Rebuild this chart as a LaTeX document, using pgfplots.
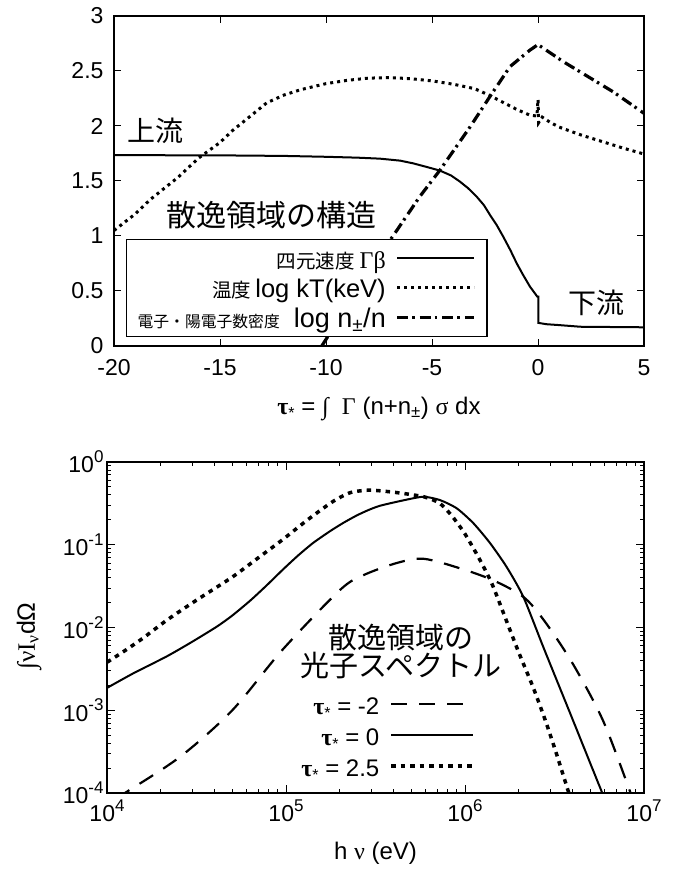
\documentclass[border=0pt]{standalone}
\usepackage{amsmath}
\usepackage{fontspec}
\setmainfont{Liberation Sans}
\newfontfamily\jp{Noto Sans CJK JP}
\newfontfamily\gr{Liberation Serif}
\usepackage{pgfplots}
\pgfplotsset{compat=1.18}
\newcommand{\fs}[1]{\fontsize{#1}{#1}\selectfont}
\newcommand{\tp}[1]{10\raisebox{0.45em}{\fs{17}#1}}
\newcommand{\taus}{{\gr\bfseries τ}\raisebox{-4pt}{\fs{16}*}}

\pgfplotstableread{
x y
-20 1.735
-15 1.733
-12 1.728
-10 1.72
-8.5 1.712
-7.45 1.703
-6.5 1.685
-5.88 1.66
-5.2 1.625
-4.62 1.594
-4.1 1.55
-3.68 1.494
-3.3 1.435
-2.89 1.357
-2.55 1.28
-2.26 1.19
-1.95 1.10
-1.64 0.994
-1.3 0.87
-1.0 0.75
-0.7 0.645
-0.38 0.54
-0.03 0.448
0.02 0.448
0.02 0.21
0.4 0.198
1 0.19
2 0.175
5 0.17
}\gb

\pgfplotstableread{
x y
-20 1.05
-19 1.2
-18.3 1.33
-17 1.53
-16 1.71
-15 1.85
-14.4 1.96
-13.5 2.10
-12.8 2.21
-12 2.28
-11.2 2.33
-10 2.385
-9 2.415
-8 2.435
-7 2.44
-6 2.43
-5 2.41
-4 2.38
-3 2.34
-2.3 2.28
-1.5 2.2
-1 2.15
-0.4 2.1
-0.05 2.09
0 2.24
0.03 2.03
0.2 2.08
0.6 2.03
1 1.99
2 1.92
3 1.86
4 1.80
5 1.745
}\kT

\pgfplotstableread{
x y
-10.2 0
-8.6 0.48
-6.98 0.96
-5.57 1.36
-4.62 1.6
-3.21 1.99
-2.26 2.27
-1.32 2.54
-0.38 2.69
0 2.74
1.19 2.585
3.55 2.31
5 2.115
}\npm

\pgfplotstableread{
x y
1.122e4 8.5e-5
1.259e4 1e-4
2.570e4 2.754e-4
5.012e4 1e-3
9.550e4 5.37e-3
1.995e5 2.818e-2
2.692e5 4.266e-2
4.169e5 6.03e-2
5.888e5 6.76e-2
9.376e5 5.19e-2
1.439e6 3.715e-2
2.118e6 2.344e-2
2.754e6 1.23e-2
3.981e6 3.715e-3
5.888e6 7.59e-4
8.318e6 1.07e-4
8.511e6 8.9e-5
}\sm

\pgfplotstableread{
x y
1e4 1.862e-3
1.413e4 2.818e-3
2.153e4 4.467e-3
2.951e4 6.607e-3
4.102e4 1.023e-2
5.012e4 1.396e-2
6.310e4 2.113e-2
7.762e4 3.199e-2
9.661e4 5.070e-2
1.175e5 7.499e-2
1.419e5 1.054e-1
1.762e5 1.459e-1
2.089e5 1.837e-1
2.483e5 2.259e-1
2.884e5 2.624e-1
3.350e5 2.958e-1
4.467e5 3.420e-1
5.848e5 3.802e-1
7.244e5 3.467e-1
8.995e5 2.754e-1
1.114e6 1.820e-1
1.380e6 1.047e-1
1.710e6 5.370e-2
2.118e6 2.344e-2
2.754e6 5.623e-3
3.890e6 8.913e-4
5.821e6 1.023e-4
6.026e6 8.9e-5
}\sz

\pgfplotstableread{
x y
1e4 3.80e-3
1.259e4 5.25e-3
1.585e4 7.41e-3
2.163e4 1.23e-2
3.162e4 2.14e-2
5.012e4 4.07e-2
7.079e4 7.08e-2
9.550e4 1.148e-1
1.318e5 1.995e-1
1.820e5 3.31e-1
2.291e5 4.27e-1
2.951e5 4.57e-1
4.150e5 4.27e-1
5.888e5 3.80e-1
7.244e5 3.16e-1
8.511e5 2.188e-1
1e6 1.349e-1
1.202e6 6.761e-2
1.413e6 3.388e-2
1.698e6 1.23e-2
1.995e6 5.01e-3
2.399e6 1.905e-3
2.818e6 7.41e-4
3.236e6 3.02e-4
3.802e6 1.0e-4
3.9e6 8.5e-5
}\sp

\begin{document}
\begin{tikzpicture}[x=1pt,y=1pt]
\path[use as bounding box] (0,0) rectangle (675,870);

\begin{axis}[
  at={(114pt,524pt)}, anchor=south west, scale only axis,
  width=530pt, height=330pt,
  xmin=-20, xmax=5, ymin=0, ymax=3,
  xtick={-20,-15,-10,-5,0,5}, xticklabels={-20,-15,-10,-5,0,5},
  ytick={0,0.5,1,1.5,2,2.5,3}, yticklabels={0,0.5,1,1.5,2,2.5,3},
  tick align=inside, major tick length=7pt,
  axis line style={line width=1.3pt},
  every tick/.style={black, line width=1pt},
  tick label style={font=\fs{23}},
  xticklabel style={yshift=-10pt},
  yticklabel style={xshift=-7pt},
  xlabel={\taus\ = {\gr ∫}\ \ {\gr Γ} (n+n\textsubscript{±}) {\gr σ} dx},
  xlabel style={at={(axis description cs:0.5,-0.19)}, anchor=center, font=\fs{24}},
  legend cell align=right, legend plot pos=right,
  legend style={at={(axis description cs:0.0226,0.0273)}, anchor=south west,
    draw=black, line width=1.3pt, fill=white, inner xsep=11pt, inner ysep=5pt,
    row sep=1.5pt, column sep=10pt,
    nodes={inner sep=0pt, text height=24pt, text depth=4pt}},
  legend image code/.code={\draw[#1] (0pt,0pt) -- (67pt,0pt); \path (0pt,0pt) -- (77pt,0pt);},
]
\addplot[black, line width=2pt] table {\gb};
\addlegendentry{{\jp\fs{19.5}四元速度}\hspace{5pt}{\gr\fs{24}Γβ}}
\addplot[black, line width=3pt, dash pattern=on 3pt off 4pt] table {\kT};
\addlegendentry{{\jp\fs{19.5}温度}\hspace{4pt}{\fs{25.5}log kT(keV)}}
\addplot[black, line width=3.2pt, dash pattern=on 11pt off 4pt on 2.5pt off 5pt] table {\npm};
\addlegendentry{{\jp\fs{15.8}電子・陽電子数密度}\hspace{14pt}{\fs{27}log n\textsubscript{±}/n}}
\node[font=\jp\fs{28}] at (axis cs:-18.02,1.955) {上流};
\node[font=\jp\fs{28}] at (axis cs:2.74,0.39) {下流};
\node[font=\jp\fs{30}] at (axis cs:-12.55,1.19) {散逸領域の構造};
\end{axis}

\begin{axis}[
  at={(107pt,77pt)}, anchor=south west, scale only axis,
  width=537pt, height=331pt,
  xmode=log, ymode=log, xmin=1e4, xmax=1e7, ymin=1e-4, ymax=1,
  xtick={1e4,1e5,1e6,1e7}, xticklabels={\tp{4},\tp{5},\tp{6},\tp{7}},
  ytick={1e-4,1e-3,1e-2,1e-1,1}, yticklabels={\tp{-4},\tp{-3},\tp{-2},\tp{-1},\tp{0}},
  minor xtick={2e4,3e4,4e4,5e4,6e4,7e4,8e4,9e4,2e5,3e5,4e5,5e5,6e5,7e5,8e5,9e5,2e6,3e6,4e6,5e6,6e6,7e6,8e6,9e6},
  minor ytick={2e-4,3e-4,4e-4,5e-4,6e-4,7e-4,8e-4,9e-4,2e-3,3e-3,4e-3,5e-3,6e-3,7e-3,8e-3,9e-3,2e-2,3e-2,4e-2,5e-2,6e-2,7e-2,8e-2,9e-2,2e-1,3e-1,4e-1,5e-1,6e-1,7e-1,8e-1,9e-1},
  tick align=inside, major tick length=8pt, minor tick length=4pt,
  axis line style={line width=1.3pt},
  every tick/.style={black, line width=1pt},
  tick label style={font=\fs{23}},
  xticklabel style={yshift=-3pt},
  xlabel={h {\gr ν} (eV)},
  xlabel style={at={(axis description cs:0.5,-0.181)}, anchor=center, font=\fs{24}},
  ylabel={{\gr ∫νI\textsubscript{ν}}dΩ},
  ylabel style={at={(axis description cs:-0.145,0.474)}, anchor=center, font=\fs{25}},
  legend cell align=right, legend plot pos=right,
  legend style={at={(axis description cs:0.6853,0.3112)}, anchor=north east,
    draw=none, fill=none, inner sep=0pt, row sep=3pt, column sep=10pt,
    font=\fs{24},
    nodes={inner sep=0pt, text height=24pt, text depth=4pt}},
  legend image code/.code={\draw[#1] (0pt,0pt) -- (82pt,0pt);},
]
\addplot[black, line width=2.2pt, dash pattern=on 16pt off 12pt, smooth, tension=0.5] table {\sm};
\addlegendentry{\taus\ = -2}
\addplot[black, line width=2pt, smooth, tension=0.4] table {\sz};
\addlegendentry{\taus\ = 0}
\addplot[black, line width=3.5pt, dash pattern=on 4.5pt off 5pt, smooth, tension=0.4] table {\sp};
\addlegendentry{\taus\ = 2.5}
\node[font={\jp\fontsize{29}{28}\selectfont}, align=center] at (axis cs:4.39e5,5.19e-3) {散逸領域の\\光子スペクトル};
\end{axis}
\end{tikzpicture}
\end{document}
